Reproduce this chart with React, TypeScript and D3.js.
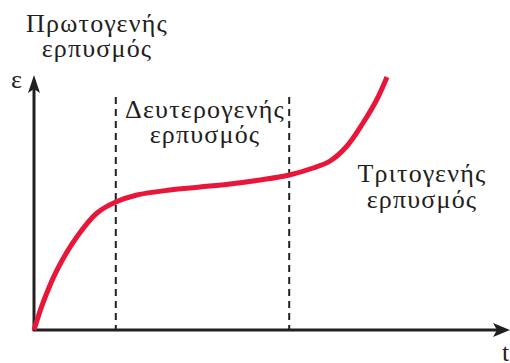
import React from "react";
import * as d3 from "d3";

const W = 510;
const H = 363;

// curve samples: time (arbitrary units) and strain ε (arbitrary units)
const times = [0, 1.9, 4.9, 9.1, 13.4, 17.4, 21.9, 28.9, 35.3, 41.7, 48.1, 54.3, 59.4, 63, 66.6, 70, 73, 75.1];
const strains = [0, 10.8, 24, 37.2, 46.8, 51.2, 54, 56, 57.2, 58.4, 60, 62, 64.8, 67.6, 73.6, 82.8, 92.4, 101.2];

// stage boundaries (time)
const boundaries = [17.4, 54.3];

const labelPrimary = ["Πρωτογενής", "ερπυσμός"];
const labelSecondary = ["Δευτερογενής", "ερπυσμός"];
const labelTertiary = ["Τριτογενής", "ερπυσμός"];
const axisX = "t";
const axisY = "ε";

export default function App() {
  const x = d3.scaleLinear().domain([0, 100]).range([34, 504]);
  const y = d3.scaleLinear().domain([0, 100]).range([330, 80]);
  const pts: [number, number][] = times.map((t, i) => [t, strains[i]]);
  const line = d3
    .line<[number, number]>()
    .x((d) => x(d[0]))
    .y((d) => y(d[1]))
    .curve(d3.curveCatmullRom.alpha(0.5));

  const font = "'Liberation Serif', 'Times New Roman', serif";
  const fs = 26;
  const ls = 1.2;
  const ink = "#231f20";
  const x0 = x(0);
  const y0 = y(0);

  const textBlock = (lines: string[], cx: number, by: number, gap: number) => (
    <g>
      {lines.map((l, i) => (
        <text
          key={i}
          x={cx}
          y={by + i * gap}
          textAnchor="middle"
          fontFamily={font}
          fontSize={fs}
          letterSpacing={ls}
          fill={ink}
        >
          {l}
        </text>
      ))}
    </g>
  );

  return (
    <svg width={W} height={H} style={{ position: "absolute", left: 0, top: 0, background: "#fff" }}>
      {boundaries.map((b, i) => (
        <line
          key={i}
          x1={x(b)}
          x2={x(b)}
          y1={97}
          y2={y0}
          stroke={ink}
          strokeWidth={2}
          strokeDasharray="7,5"
        />
      ))}
      {/* axes */}
      <line x1={x0} y1={y0} x2={x0} y2={88} stroke={ink} strokeWidth={3} />
      <path d={`M${x0},75 L${x0 + 6},93 L${x0},89 L${x0 - 6},93 Z`} fill={ink} />
      <line x1={x0 - 1.5} y1={y0} x2={498} y2={y0} stroke={ink} strokeWidth={3} />
      <path d={`M510,${y0} L493,${y0 - 7} L497,${y0} L493,${y0 + 7} Z`} fill={ink} />
      <path d={line(pts) || ""} fill="none" stroke="#e8173a" strokeWidth={5} strokeLinecap="butt" />
      <text x={11} y={88} fontFamily={font} fontSize={fs} fill={ink}>
        {axisY}
      </text>
      <text x={502} y={361} fontFamily={font} fontSize={fs} fill={ink}>
        {axisX}
      </text>
      {textBlock(labelPrimary, 97, 32, 25)}
      {textBlock(labelSecondary, 205, 118, 25)}
      {textBlock(labelTertiary, 422, 182, 26)}
    </svg>
  );
}
